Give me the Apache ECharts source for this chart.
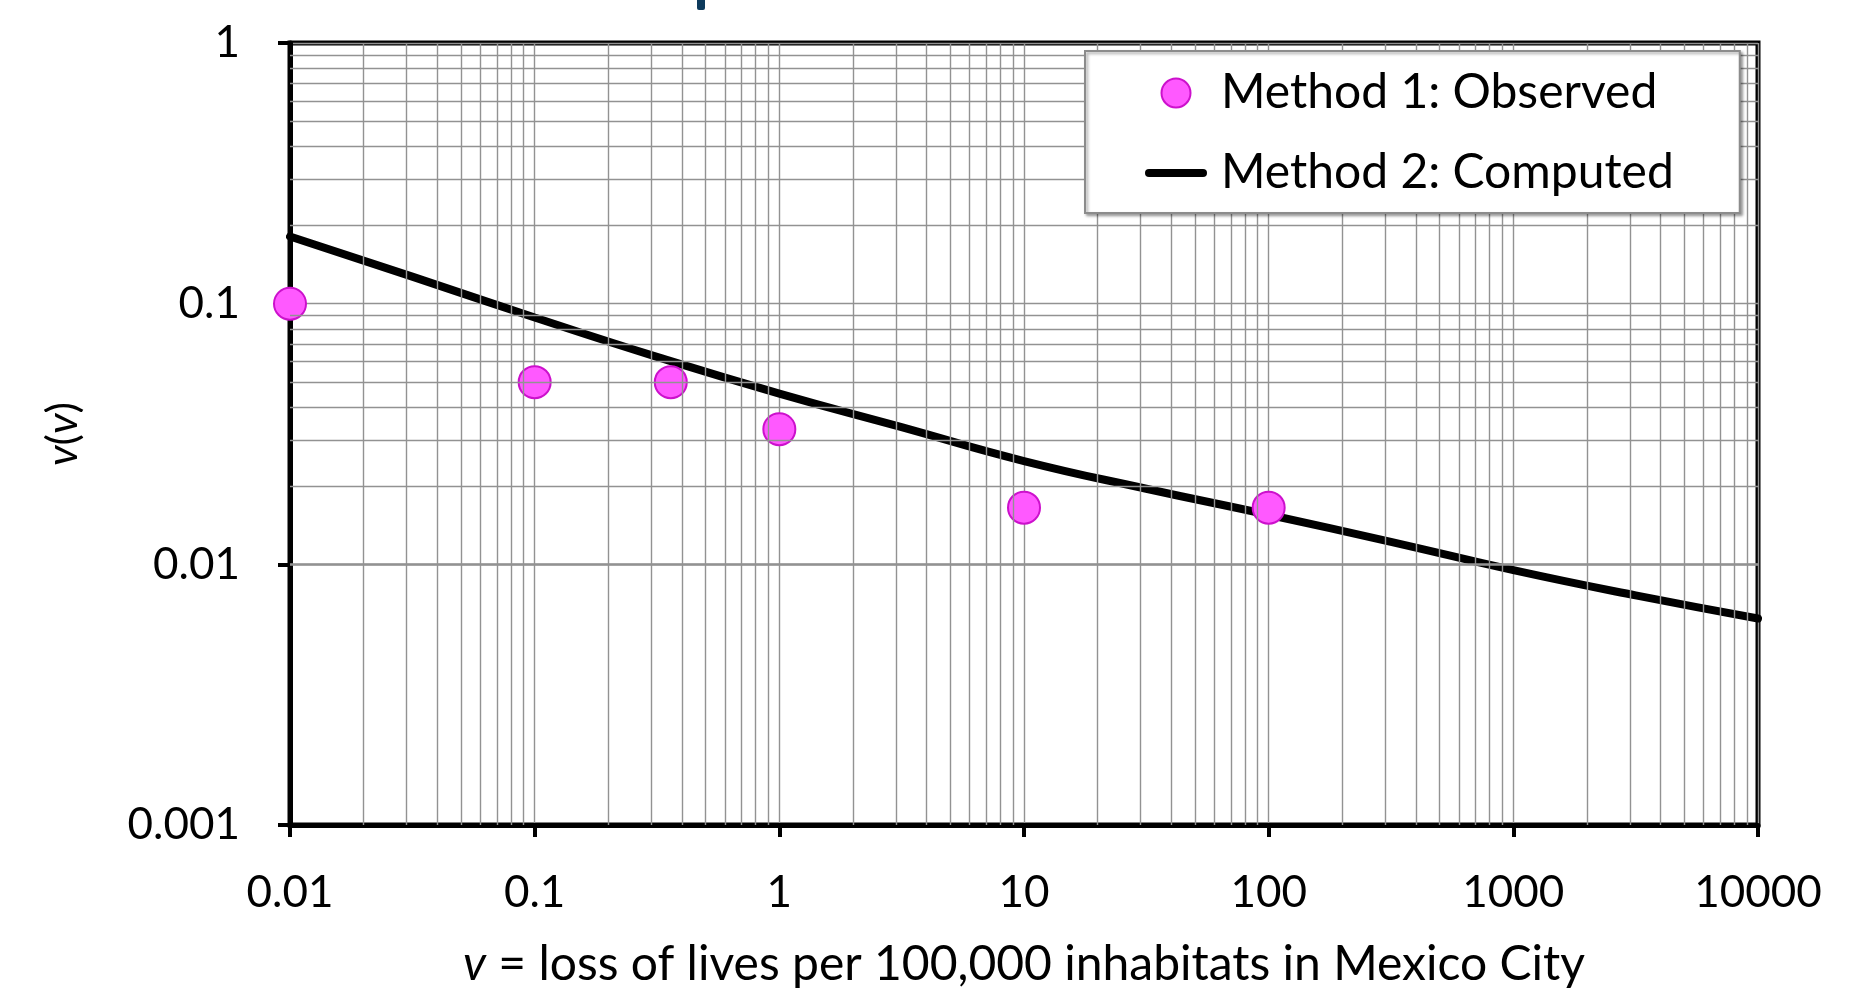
<!DOCTYPE html>
<html>
<head>
<meta charset="utf-8">
<title>Loss of lives in Mexico City</title>
<script src="https://cdn.jsdelivr.net/npm/echarts@6/dist/echarts.min.js"></script>
<style>
  html, body { margin: 0; padding: 0; background: #fff; }
  #chart { width: 1874px; height: 989px; }
</style>
</head>
<body>
<div id="chart"></div>
<script>
// Method 1: observed points
const observedX = [0.01, 0.1, 0.36, 1, 10, 100];
const observedY = [0.1, 0.05, 0.05, 0.033, 0.0165, 0.0165];

// Method 2: computed curve
const computedX = [0.01, 0.0316, 0.1, 0.316, 1, 3.16, 10, 31.6, 100, 316, 1000, 3162, 10000];
const computedY = [0.181, 0.127, 0.0885, 0.0625, 0.0452, 0.0336, 0.0249, 0.0195, 0.0155, 0.0122, 0.0095, 0.0076, 0.0062];

const xTickLabels = ['0.01', '0.1', '1', '10', '100', '1000', '10000'];
const yTickLabels = ['0.001', '0.01', '0.1', '1'];

// minor grid lines at 2..9 of every decade
const xDecades = [0.01, 0.1, 1, 10, 100, 1000];
const yDecades = [0.001, 0.01, 0.1];
const mantissas = [2, 3, 4, 5, 6, 7, 8, 9];

const minorLines = [];
xDecades.forEach(d => mantissas.forEach(m => minorLines.push({ xAxis: +(m * d).toPrecision(3) })));
yDecades.forEach(d => mantissas.forEach(m => minorLines.push({ yAxis: +(m * d).toPrecision(3) })));

const FONT = 'Lato';
const gridColor = '#929292';

const chart = echarts.init(document.getElementById('chart'));

chart.setOption({
  animation: false,
  backgroundColor: '#fff',
  textStyle: { fontFamily: FONT, color: '#000' },
  // clipped bit of the slide title above the chart
  graphic: [
    { type: 'rect', left: 697, top: -4, shape: { width: 8, height: 14, r: 2 }, style: { fill: '#0d3a5c' } }
  ],
  grid: {
    left: 290, right: 116, top: 43, bottom: 164,
    show: true,
    borderColor: '#000',
    borderWidth: 5,
    containLabel: false,
    outerBoundsMode: 'none'
  },
  legend: {
    orient: 'vertical',
    left: 1085,
    top: 51,
    z: 10,
    padding: [17, 66, 15, 60],
    itemWidth: 62,
    itemHeight: 29,
    itemGap: 30,
    backgroundColor: '#fff',
    borderColor: '#8c8c8c',
    borderWidth: 2,
    shadowColor: 'rgba(0,0,0,0.35)',
    shadowBlur: 3,
    shadowOffsetX: 2,
    shadowOffsetY: 2,
    textStyle: { fontFamily: FONT, fontSize: 48, color: '#000', lineHeight: 50, padding: [0, 0, 0, 9] },
    data: [
      { name: 'Method 1: Observed', icon: 'circle' },
      { name: 'Method 2: Computed', icon: 'path://M4,0 L58,0 A4,4 0 0 1 58,8 L4,8 A4,4 0 0 1 4,0 Z' }
    ]
  },
  xAxis: {
    type: 'log',
    logBase: 10,
    min: 0.01,
    max: 10000,
    name: '{i|v} = loss of lives per 100,000 inhabitats in Mexico City',
    nameLocation: 'middle',
    nameGap: 116,
    nameTextStyle: {
      fontFamily: FONT, fontSize: 48, color: '#000',
      rich: { i: { fontFamily: FONT, fontSize: 48, fontStyle: 'italic', color: '#000' } }
    },
    axisLine: { show: true, lineStyle: { color: '#000', width: 5 } },
    axisTick: { show: true, inside: false, length: 12, lineStyle: { color: '#000', width: 4 } },
    axisLabel: {
      margin: 46,
      fontFamily: FONT, fontSize: 44, color: '#000',
      formatter: (v, i) => xTickLabels[i]
    },
    splitLine: { show: true, lineStyle: { color: gridColor, width: 1.4 } },
    minorTick: { show: false },
    minorSplitLine: { show: false }
  },
  yAxis: {
    type: 'log',
    logBase: 10,
    min: 0.001,
    max: 1,
    name: '{i|v}({i|v})',
    nameLocation: 'middle',
    nameGap: 205,
    nameTextStyle: {
      fontFamily: FONT, fontSize: 43, color: '#000',
      rich: { i: { fontFamily: FONT, fontSize: 43, fontStyle: 'italic', color: '#000' } }
    },
    axisLine: { show: true, lineStyle: { color: '#000', width: 5 } },
    axisTick: { show: true, inside: false, length: 12, lineStyle: { color: '#000', width: 4 } },
    axisLabel: {
      margin: 50,
      fontFamily: FONT, fontSize: 44, color: '#000',
      formatter: (v, i) => yTickLabels[i]
    },
    splitLine: { show: true, lineStyle: { color: gridColor, width: 1.4 } },
    minorTick: { show: false },
    minorSplitLine: { show: false }
  },
  series: [
    {
      name: 'grid',
      type: 'line',
      data: [],
      z: 1,
      silent: true,
      markLine: {
        silent: true,
        symbol: ['none', 'none'],
        label: { show: false },
        emphasis: { disabled: true },
        lineStyle: { color: gridColor, width: 1.4, type: 'solid' },
        data: minorLines
      }
    },
    {
      name: 'Method 2: Computed',
      type: 'line',
      z: 3,
      smooth: true,
      symbol: 'none',
      showSymbol: false,
      lineStyle: { color: '#000', width: 8, cap: 'round' },
      itemStyle: { color: '#000' },
      data: computedX.map((x, i) => [x, computedY[i]])
    },
    {
      name: 'Method 1: Observed',
      type: 'scatter',
      z: 4,
      symbol: 'circle',
      symbolSize: 32,
      itemStyle: { color: '#ff59ff', borderColor: '#cc11cc', borderWidth: 2, opacity: 1 },
      data: observedX.map((x, i) => [x, observedY[i]])
    }
  ]
});
</script>
</body>
</html>
